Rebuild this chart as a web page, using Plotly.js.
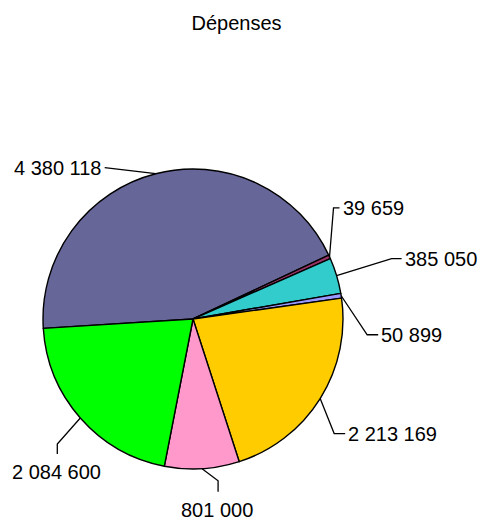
<!DOCTYPE html>
<html><head><meta charset="utf-8">
<script src="https://cdn.plot.ly/plotly-3.0.1.min.js"></script>
<style>html,body{margin:0;padding:0;background:#fff}#chart{width:481px;height:519px}</style>
</head><body><div id="chart"></div>
<script>
// ---- data ----
const chartTitle = 'Dépenses';
const sliceNames = ['Poste 1', 'Poste 2', 'Poste 3', 'Poste 4', 'Poste 5', 'Poste 6', 'Poste 7'];
const values = [4380118, 39659, 385050, 50899, 2213169, 801000, 2084600];
const colors = ['#666699', '#993366', '#33CCCC', '#9999FF', '#FFCC00', '#FF99CC', '#00FF00'];

// ---- layout / style ----
const W = 481, H = 519;
const pieBox = {x0: 43, x1: 343, y0: 169, y1: 469}; // pixel box of the pie
const startAngle = 266.4;                            // degrees clockwise from 12 o'clock
const fontFam = 'Liberation Sans, Arial, sans-serif';
// leader-line shape per slice: knee offset from slice anchor, end offset from knee, label side
const leader = [
  {k: [-51, -6], e: [0, 0],  side: 'left'},
  {k: [4, -49],  e: [6, 0],  side: 'right'},
  {k: [55, -17], e: [10, 0], side: 'right'},
  {k: [26, 39],  e: [11, 0], side: 'right'},
  {k: [14, 35],  e: [11, 0], side: 'right'},
  {k: [16, 12],  e: [0, 11], side: 'below'},
  {k: [-23, 26], e: [0, 10], side: 'below'}
];

function fmt(v) { return String(v).replace(/\B(?=(\d{3})+(?!\d))/g, ' '); }
const px = x => x / W, py = y => 1 - y / H;

const cx = (pieBox.x0 + pieBox.x1) / 2, cy = (pieBox.y0 + pieBox.y1) / 2;
const R = (pieBox.x1 - pieBox.x0) / 2;
const total = values.reduce((a, b) => a + b, 0);

const shapes = [], annotations = [];
let cum = 0;
values.forEach((v, i) => {
  const mid = (startAngle + (cum + v / 2) / total * 360) * Math.PI / 180;
  cum += v;
  const P = [cx + R * Math.sin(mid), cy - R * Math.cos(mid)];
  const L = leader[i];
  const K = [P[0] + L.k[0], P[1] + L.k[1]];
  const E = [K[0] + L.e[0], K[1] + L.e[1]];
  shapes.push({
    type: 'path', xref: 'paper', yref: 'paper',
    path: `M ${px(P[0])},${py(P[1])} L ${px(K[0])},${py(K[1])} L ${px(E[0])},${py(E[1])}`,
    line: {color: '#000', width: 1.3}
  });
  const a = {xref: 'paper', yref: 'paper', showarrow: false, text: fmt(v),
    font: {family: fontFam, size: 20, color: '#000'}};
  if (L.side === 'left') { a.x = px(E[0] - 1); a.y = py(E[1]); a.xanchor = 'right'; a.yanchor = 'middle'; }
  else if (L.side === 'right') { a.x = px(E[0] + 1); a.y = py(E[1]); a.xanchor = 'left'; a.yanchor = 'middle'; }
  else { a.x = px(E[0] - 1); a.y = py(E[1] + 18); a.xanchor = 'center'; a.yanchor = 'middle'; }
  annotations.push(a);
});

const trace = {
  type: 'pie', labels: sliceNames, values: values, sort: false,
  direction: 'clockwise', rotation: startAngle,
  marker: {colors: colors, line: {color: '#000', width: 1.4}},
  textinfo: 'none', hoverinfo: 'none', showlegend: false,
  domain: {x: [px(pieBox.x0), px(pieBox.x1)], y: [py(pieBox.y1), py(pieBox.y0)]}
};

const layout = {
  width: W, height: H, margin: {l: 0, r: 0, t: 0, b: 0},
  paper_bgcolor: '#fff', plot_bgcolor: '#fff', showlegend: false,
  title: {text: chartTitle, font: {family: fontFam, size: 20, color: '#000'},
    x: 236.5 / W, xanchor: 'center', xref: 'paper', y: 1 - 23 / H, yanchor: 'middle', yref: 'container'},
  shapes: shapes, annotations: annotations
};

Plotly.newPlot('chart', [trace], layout, {staticPlot: true, displayModeBar: false});
</script>
</body></html>
